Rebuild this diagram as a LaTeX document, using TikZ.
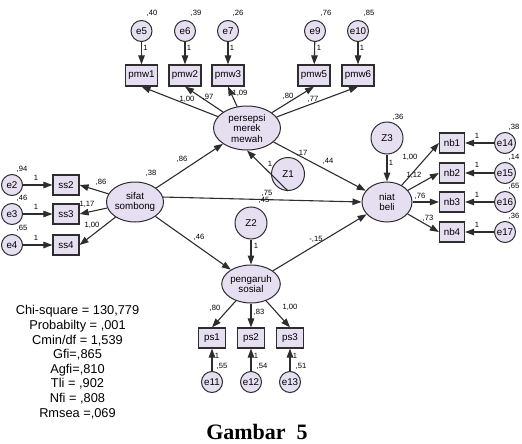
\documentclass[tikz,border=0pt]{standalone}
\usepackage{fontspec}
\setmainfont{Liberation Sans}
\newfontfamily\capfont{Liberation Serif}
\usetikzlibrary{shapes.geometric,arrows.meta}
\definecolor{fillc}{RGB}{230,223,242}
\definecolor{linec}{RGB}{45,45,45}
\begin{document}
\begin{tikzpicture}[x=1pt,y=-1pt,
  box/.style={draw=linec,fill=fillc,rectangle,minimum width=32pt,minimum height=21pt,inner sep=0pt,line width=1.2pt,font=\fontsize{9.8}{10}\selectfont},
  sbox/.style={box,minimum width=26pt,minimum height=20pt},
  err/.style={draw=linec,fill=fillc,circle,minimum size=21pt,inner sep=0pt,line width=1pt,font=\fontsize{9.8}{10}\selectfont},
  dist/.style={err,minimum size=32pt},
  lat/.style={draw=linec,fill=fillc,ellipse,inner sep=0pt,align=center,line width=1pt,font=\fontsize{9.8}{10.5}\selectfont},
  lab/.style={font=\fontsize{7.6}{8}\selectfont,inner sep=0pt},
  stat/.style={font=\fontsize{12.8}{14}\selectfont,inner sep=0pt},
  arr/.style={-{Triangle[length=9pt,width=6.5pt]},line width=1.1pt,draw=linec}]
\useasboundingbox (0,0) rectangle (522,444);

% top indicators
\node[err] (e5) at (141.5,31) {e5};
\node[err] (e6) at (185,31) {e6};
\node[err] (e7) at (228,31) {e7};
\node[err] (e9) at (315,31) {e9};
\node[err] (e10) at (358,31) {e10};
\node[box] (pmw1) at (141.5,75.5) {pmw1};
\node[box] (pmw2) at (185,75.5) {pmw2};
\node[box] (pmw3) at (228,75.5) {pmw3};
\node[box] (pmw5) at (314,75.5) {pmw5};
\node[box] (pmw6) at (358,75.5) {pmw6};

% latent variables
\node[lat,minimum width=67pt,minimum height=44pt] (pmm) at (247,128) {persepsi\\merek\\mewah};
\node[lat,minimum width=54pt,minimum height=40pt] (ss) at (135,202) {sifat\\sombong};
\node[lat,minimum width=50pt,minimum height=40pt] (nb) at (387,202) {niat\\beli};
\node[lat,minimum width=56pt,minimum height=38pt] (ps) at (251,284) {pengaruh\\sosial};

% disturbances
\node[dist,minimum size=33pt] (Z1) at (288,174) {Z1};
\node[dist] (Z2) at (251,223) {Z2};
\node[dist] (Z3) at (387,138) {Z3};

% left indicators
\node[sbox] (ss2) at (66,185) {ss2};
\node[sbox] (ss3) at (66,214) {ss3};
\node[sbox] (ss4) at (66,245) {ss4};
\node[err] (e2) at (12,185) {e2};
\node[err] (e3) at (12,214) {e3};
\node[err] (e4) at (12,245) {e4};

% right indicators
\node[sbox,minimum width=25pt] (nb1) at (452,143) {nb1};
\node[sbox,minimum width=25pt] (nb2) at (452,173) {nb2};
\node[sbox,minimum width=25pt] (nb3) at (452,202) {nb3};
\node[sbox,minimum width=25pt] (nb4) at (452,232) {nb4};
\node[err] (e14) at (505,143) {e14};
\node[err] (e15) at (505,173) {e15};
\node[err] (e16) at (505,202) {e16};
\node[err] (e17) at (505,232) {e17};

% bottom indicators
\node[sbox,minimum width=27pt] (ps1) at (212,338) {ps1};
\node[sbox,minimum width=27pt] (ps2) at (251,338) {ps2};
\node[sbox,minimum width=27pt] (ps3) at (290,338) {ps3};
\node[err] (e11) at (212,382) {e11};
\node[err] (e12) at (251,382) {e12};
\node[err] (e13) at (290,382) {e13};

% arrows: errors to indicators
\foreach \e/\b in {e5/pmw1,e6/pmw2,e7/pmw3,e9/pmw5,e10/pmw6,e2/ss2,e3/ss3,e4/ss4,e14/nb1,e15/nb2,e16/nb3,e17/nb4,e11/ps1,e12/ps2,e13/ps3}
  \draw[arr] (\e) -- (\b);

% loadings
\foreach \b in {pmw1,pmw2,pmw3,pmw5,pmw6}
  \draw[arr] (pmm) -- (\b.south);
\foreach \b in {ss2,ss3,ss4}
  \draw[arr] (ss) -- (\b.east);
\foreach \b in {nb1,nb2,nb3,nb4}
  \draw[arr] (nb) -- (\b.west);
\foreach \b in {ps1,ps2,ps3}
  \draw[arr] (ps) -- (\b.north);

% structural paths
\draw[arr] (ss) -- (pmm);
\draw[arr] (ss.10) -- (nb.west);
\draw[arr] (ss) -- (ps);
\draw[arr] (pmm) -- (nb);
\draw[arr] (ps) -- (nb);
\draw[arr] (Z1.south) -- (pmm.south);
\draw[arr] (Z2) -- (ps);
\draw[arr] (Z3) -- (nb);

% labels top
\node[lab] (v5) at (152,13) {,40};
\node[lab] (v6) at (196,13) {,39};
\node[lab] (v7) at (238,13) {,26};
\node[lab] (v9) at (326,13) {,76};
\node[lab] (v10) at (369,13) {,85};
\node[lab] (o5) at (145.5,48) {1};
\node[lab] (o6) at (189,48) {1};
\node[lab] (o7) at (232,48) {1};
\node[lab] (o9) at (319,48) {1};
\node[lab] (o10) at (362,48) {1};
\node[lab] (w1) at (187,99) {1,00};
\node[lab] (w2) at (208,97) {,97};
\node[lab] (w3) at (240,93) {1,09};
\node[lab] (w5) at (288,96) {,80};
\node[lab] (w6) at (313,99) {,77};

% labels left
\node[lab] (v2) at (22,169) {,94};
\node[lab] (v3) at (22,198) {,46};
\node[lab] (v4) at (22,228) {,65};
\node[lab] (o2) at (36,178) {1};
\node[lab] (o3) at (36,207) {1};
\node[lab] (o4) at (36,238) {1};
\node[lab] (k2) at (101,182) {,86};
\node[lab] (k3) at (87,204) {1,17};
\node[lab] (k4) at (92,225) {1,00};
\node[lab] (vss) at (151,173) {,38};
\node[lab] (p1) at (182,159) {,86};
\node[lab] (p2) at (199,237) {,46};

% labels middle
\node[lab] (oz1) at (270,164) {1};
\node[lab] (r1) at (302,153) {,17};
\node[lab] (p3) at (328,161) {,44};
\node[lab] (r2) at (267,193) {,75};
\node[lab] (p4) at (264,200) {,45};
\node[lab] (oz2) at (256,246) {1};
\node[lab] (p5) at (316,239) {-,15};

% labels right
\node[lab] (vz3) at (398,117) {,36};
\node[lab] (oz3) at (391,163) {1};
\node[lab] (n1) at (410,157) {1,00};
\node[lab] (n2) at (414,175) {1,12};
\node[lab] (n3) at (420,196) {,76};
\node[lab] (n4) at (428,218) {,73};
\node[lab] (o14) at (477,136) {1};
\node[lab] (o15) at (477,165) {1};
\node[lab] (o16) at (477,195) {1};
\node[lab] (o17) at (477,225) {1};
\node[lab] (v14) at (514,127) {,38};
\node[lab] (v15) at (514,157) {,14};
\node[lab] (v16) at (514,186) {,65};
\node[lab] (v17) at (514,216) {,36};

% labels bottom
\node[lab] (q1) at (215,308) {,80};
\node[lab] (q2) at (259,312) {,83};
\node[lab] (q3) at (290,307) {1,00};
\node[lab] (o11) at (217,356) {1};
\node[lab] (o12) at (256,356) {1};
\node[lab] (o13) at (295,356) {1};
\node[lab] (v11) at (222,366) {,55};
\node[lab] (v12) at (262,366) {,54};
\node[lab] (v13) at (301,366) {,51};

% fit statistics
\node[stat] (s1) at (77.5,311) {Chi-square = 130,779};
\node[stat] (s2) at (77.5,326) {Probabilty = ,001};
\node[stat] (s3) at (77.5,341) {Cmin/df = 1,539};
\node[stat] (s4) at (77.5,355) {Gfi=,865};
\node[stat] (s5) at (77.5,370) {Agfi=,810};
\node[stat] (s6) at (77.5,384) {Tli = ,902};
\node[stat] (s7) at (77.5,399) {Nfi = ,808};
\node[stat] (s8) at (77.5,414) {Rmsea =,069};

\node[inner sep=0pt,font=\capfont\bfseries\fontsize{22}{23}\selectfont] (cap) at (257,432) {Gambar\ \ 5};
\end{tikzpicture}
\end{document}
